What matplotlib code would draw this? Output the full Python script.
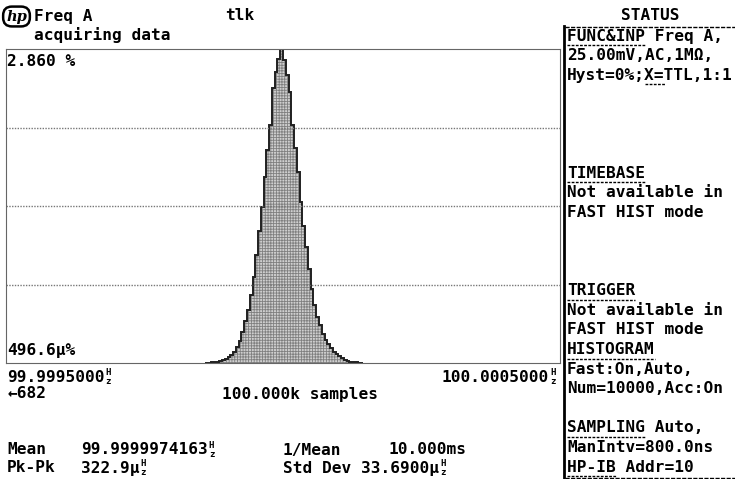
import numpy as np
import matplotlib.pyplot as plt
from matplotlib.lines import Line2D

# histogram, 5 uHz bins, offsets from 100 Hz in uHz
bin_lo_uhz = -140
bin_uhz = 5
pct = [0.003, 0.005, 0.009, 0.009, 0.014, 0.018, 0.027, 0.036, 0.055, 0.073,
       0.100, 0.146, 0.200, 0.282, 0.383, 0.483, 0.619, 0.783, 0.984, 1.202,
       1.421, 1.694, 1.940, 2.168, 2.505, 2.650, 2.769, 2.860, 2.760, 2.623,
       2.468, 2.168, 1.958, 1.740, 1.466, 1.248, 1.057, 0.856, 0.674, 0.528,
       0.419, 0.346, 0.264, 0.209, 0.173, 0.137, 0.100, 0.082, 0.064, 0.046,
       0.027, 0.018, 0.014, 0.009, 0.009, 0.005, 0.003]
x_span_uhz = (-500, 500)
y_top_pct = 2.860
y_bot_pct = 0.0004966

status_lines = [
    "FUNC&INP Freq A,", "25.00mV,AC,1MΩ,", "Hyst=0%;X=TTL,1:1", "", "", "", "",
    "TIMEBASE", "Not available in", "FAST HIST mode", "", "", "",
    "TRIGGER", "Not available in", "FAST HIST mode", "HISTOGRAM",
    "Fast:On,Auto,", "Num=10000,Acc:On", "", "SAMPLING Auto,",
    "ManIntv=800.0ns", "HP-IB Addr=10"]
# (line index, first char, n chars) to underline
underlines = [(0, 0, 8), (2, 8, 2), (7, 0, 8), (13, 0, 7), (16, 0, 9),
              (20, 0, 8), (22, 0, 5)]

W, H = 735, 479
CW = 9.75  # char width px
FONT = dict(family="DejaVu Sans Mono", weight="bold", size=11.6, color="black")
plt.rcParams["hatch.linewidth"] = 0.6

fig = plt.figure(figsize=(W / 100, H / 100), dpi=100)
renderer = fig.canvas.get_renderer()


def fx(x):
    return x / W


def fy(y):
    return 1 - y / H


def txt(x, y, s, **kw):
    opts = dict(FONT)
    opts.update(kw)
    return fig.text(fx(x), fy(y), s, va="center",
                    ha=opts.pop("ha", "left"), **opts)


def hz_after(t, y):
    # stacked H over z unit glyph, right after text t
    x1 = t.get_window_extent(renderer).x1 / fig.dpi * 100 + 1
    for dy, ch in ((-4.5, "H"), (4.5, "z")):
        fig.text(fx(x1), fy(y + dy), ch, va="center", ha="left",
                 family="DejaVu Sans Mono", weight="bold", size=6.5)


def hline(x0, x1, y, **kw):
    fig.add_artist(Line2D([fx(x0), fx(x1)], [fy(y), fy(y)],
                          transform=fig.transFigure, **kw))


# histogram panel
ax = fig.add_axes([fx(6), fy(363), fx(560) - fx(6), fy(49) - fy(363)])
edges = bin_lo_uhz + bin_uhz * np.arange(len(pct) + 1)
ax.stairs(pct, edges, baseline=y_bot_pct, fill=True, facecolor="#cfcfcf",
          edgecolor="#808080", hatch="++++++", linewidth=0)
ax.stairs(pct, edges, baseline=y_bot_pct, color="#202020", linewidth=1.4)
ax.set_xlim(*x_span_uhz)
ax.set_ylim(y_bot_pct, y_top_pct)
for k in (1, 2, 3):
    ax.axhline(y_bot_pct + k * (y_top_pct - y_bot_pct) / 4, color="#777777",
               linestyle=(0, (1, 1)), linewidth=1)
for sp in ax.spines.values():
    sp.set_linestyle((0, (1, 1)))
    sp.set_color("#666666")
ax.set_xticks([])
ax.set_yticks([])

# header
fig.text(fx(16.5), fy(16.5), "hp", va="center", ha="center", style="italic",
         weight="bold", size=10.5, family="DejaVu Serif",
         bbox=dict(boxstyle="round,pad=0.2,rounding_size=0.6", fc="white",
                   ec="black", lw=1.8))
txt(34, 16, "Freq A")
txt(225, 16, "tlk")
txt(34, 35, "acquiring data")
txt(7, 62, "2.860 %")
txt(7, 350, "496.6µ%")

# x scale labels
hz_after(txt(7, 377, "99.9995000"), 377)
hz_after(txt(549, 377, "100.0005000", ha="right"), 377)
txt(7, 394, "←682")
txt(222, 394, "100.000k samples")

# statistics
txt(7, 450, "Mean")
hz_after(txt(81, 450, "99.9999974163"), 450)
txt(7, 468, "Pk-Pk")
hz_after(txt(81, 468, "322.9µ"), 468)
txt(283, 450, "1/Mean")
txt(388, 450, "10.000ms")
hz_after(txt(283, 468, "Std Dev 33.6900µ"), 468)

# status panel
txt(650, 16, "STATUS", ha="center")
hline(565, 735, 26.5, color="black", linestyle=(0, (3, 1)), linewidth=1)
hline(565, 735, 478, color="black", linestyle=(0, (3, 1)), linewidth=1)
fig.add_artist(Line2D([fx(564), fx(564)], [fy(26), fy(479)],
                      transform=fig.transFigure, color="black", linewidth=2))
for i, s in enumerate(status_lines):
    if s:
        txt(567, 36 + 19.6 * i, s)
for i, c0, n in underlines:
    y = 36 + 19.6 * i + 9
    hline(567 + c0 * CW, 567 + (c0 + n) * CW, y, color="black",
          linestyle=(0, (2, 1)), linewidth=1)

fig.savefig("out.png", dpi=100)
